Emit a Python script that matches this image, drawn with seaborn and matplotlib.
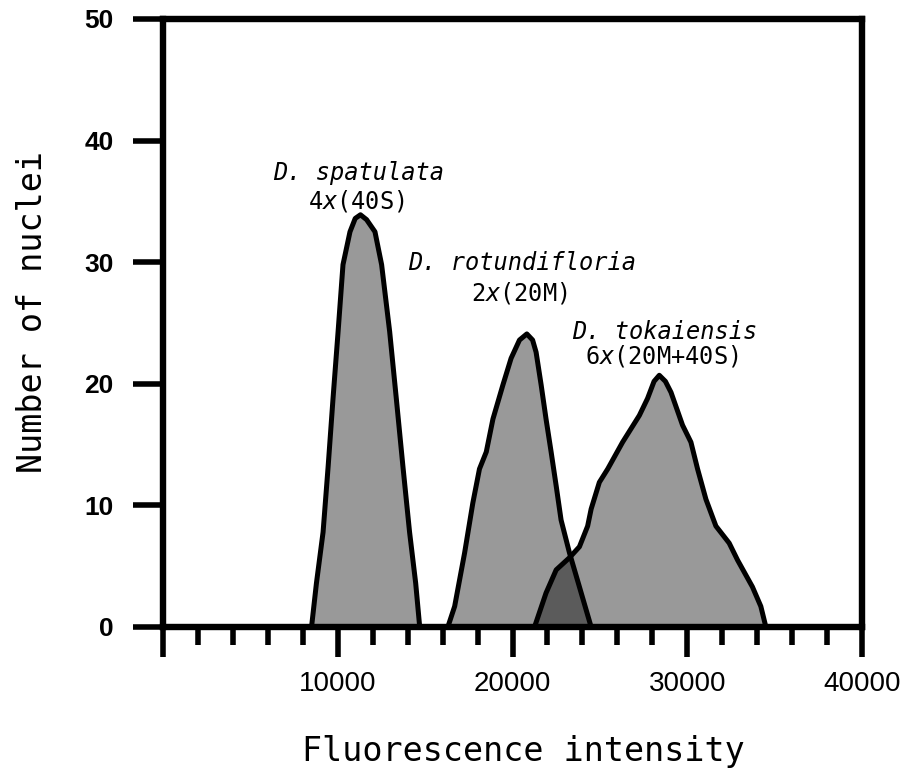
import matplotlib
matplotlib.use("Agg")
import matplotlib.pyplot as plt
import seaborn as sns
import pandas as pd
from matplotlib.ticker import FixedLocator, MultipleLocator

# ---------------- data ----------------
spatulata_intensity = [8500, 8780, 9160, 9450, 9730, 10020, 10300, 10700, 11000, 11300,
                       11650, 12130, 12510, 12970, 13350, 13730, 14110, 14460, 14690]
spatulata_counts = [0, 3.6, 7.8, 13.2, 18.8, 24.3, 29.8, 32.5, 33.6, 33.9,
                    33.5, 32.5, 29.8, 24.3, 18.8, 13.2, 7.8, 3.6, 0]

rotundifloria_intensity = [16300, 16690, 17260, 17730, 18110, 18500, 18880, 19450, 19920, 20400,
                           20820, 21150, 21350, 21640, 21920, 22210, 22500, 22780, 23260, 23830, 24500]
rotundifloria_counts = [0, 1.7, 6.1, 10.2, 13.0, 14.4, 17.1, 19.9, 22.1, 23.6,
                        24.1, 23.6, 22.6, 19.9, 17.1, 14.4, 11.6, 8.8, 6.1, 3.3, 0]

tokaiensis_intensity = [21260, 21920, 22500, 23260, 23830, 24300, 24500, 24970, 25450, 26300,
                        27260, 27730, 28100, 28400, 28750, 29070, 29730, 30210, 30590, 31070,
                        31640, 32400, 32880, 33730, 34210, 34500]
tokaiensis_counts = [0, 2.8, 4.7, 5.7, 6.6, 8.3, 9.7, 11.9, 13.0, 15.2,
                     17.4, 18.8, 20.2, 20.7, 20.2, 19.3, 16.6, 15.2, 13.0, 10.5,
                     8.3, 6.9, 5.5, 3.3, 1.7, 0]

species_names = ["D. spatulata", "D. rotundifloria", "D. tokaiensis"]
ploidy_labels = ["4$\\mathit{x}$(40S)", "2$\\mathit{x}$(20M)", "6$\\mathit{x}$(20M+40S)"]

x_major_ticks = [0, 10000, 20000, 30000, 40000]
x_tick_labels = ["", "10000", "20000", "30000", "40000"]
y_ticks = [0, 10, 20, 30, 40, 50]

series = [
    (spatulata_intensity, spatulata_counts),
    (rotundifloria_intensity, rotundifloria_counts),
    (tokaiensis_intensity, tokaiensis_counts),
]

# ---------------- style ----------------
sns.set_style("white")
plt.rcParams["font.family"] = ["DejaVu Sans Mono", "DejaVu Sans"]
plt.rcParams["mathtext.fontset"] = "custom"
plt.rcParams["mathtext.rm"] = "DejaVu Sans Mono"
plt.rcParams["mathtext.it"] = "DejaVu Sans Mono:italic"
plt.rcParams["text.color"] = "black"
plt.rcParams["axes.labelcolor"] = "black"
plt.rcParams["xtick.color"] = "black"
plt.rcParams["ytick.color"] = "black"

fig = plt.figure(figsize=(9.06, 7.74), dpi=100)
ax = fig.add_axes([163 / 906, (774 - 627) / 774, (862 - 163) / 906, (627 - 19) / 774])

# fills first (semi-transparent black so overlaps darken)
for xs, ys in series:
    ax.fill_between(xs, ys, 0, color="black", alpha=0.4, linewidth=0, zorder=1)

# outlines
for xs, ys in series:
    df = pd.DataFrame({"intensity": xs, "count": ys})
    sns.lineplot(data=df, x="intensity", y="count", color="black", linewidth=3.6,
                 sort=False, estimator=None, ax=ax, zorder=2,
                 solid_joinstyle="round", solid_capstyle="round")

ax.set_xlim(0, 40000)
ax.set_ylim(0, 50)

# spines
for s in ax.spines.values():
    s.set_visible(True)
    s.set_color("black")
    s.set_linewidth(4.6)
    s.set_zorder(3)

# ticks
ax.xaxis.set_major_locator(FixedLocator(x_major_ticks))
ax.set_xticklabels(x_tick_labels)
ax.xaxis.set_minor_locator(MultipleLocator(2000))
ax.yaxis.set_major_locator(FixedLocator(y_ticks))
ax.tick_params(axis="x", which="major", direction="out", length=21.5, width=4,
               color="black", labelcolor="black", pad=10, bottom=True, top=False)
ax.tick_params(axis="x", which="minor", direction="out", length=13, width=4,
               color="black", bottom=True, top=False)
ax.tick_params(axis="y", which="major", direction="out", length=21.5, width=4,
               color="black", labelcolor="black", pad=14, left=True, right=False)
for lab in ax.get_xticklabels():
    lab.set_fontfamily("Liberation Sans")
    lab.set_fontsize(20)
for lab in ax.get_yticklabels():
    lab.set_fontfamily("Liberation Sans")
    lab.set_fontsize(19)
    lab.set_fontweight("bold")

ax.set_xlabel("Fluorescence intensity", fontsize=24, fontfamily="DejaVu Sans Mono",
              va="center", color="black")
ax.xaxis.set_label_coords(0.516, -0.204)
ax.set_ylabel("Number of nuclei", fontsize=24, fontfamily="DejaVu Sans Mono",
              va="center", color="black")
ax.yaxis.set_label_coords(-0.186, 0.518)

# annotations
name_pos = [(11200, 37.3), (20550, 29.9), (28730, 24.3)]
ploidy_pos = [(11050, 35.0), (20370, 27.5), (28550, 22.3)]
for name, (nx, ny) in zip(species_names, name_pos):
    ax.text(nx, ny, name, fontsize=17, fontfamily="DejaVu Sans Mono", fontstyle="italic",
            ha="center", va="center", color="black", zorder=4)
for pl, (px, py) in zip(ploidy_labels, ploidy_pos):
    ax.text(px, py, pl, fontsize=17, fontfamily="DejaVu Sans Mono",
            ha="center", va="center", color="black", zorder=4)

fig.savefig("out.png", dpi=100, facecolor="white")
